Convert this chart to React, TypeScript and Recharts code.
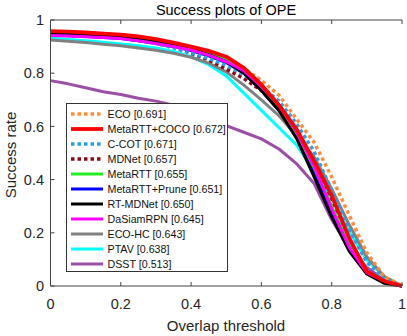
import React from 'react';
import { LineChart, Line, XAxis, YAxis, Legend } from 'recharts';

const thresholds = [0, 0.05, 0.1, 0.15, 0.2, 0.25, 0.3, 0.35, 0.4, 0.45, 0.5, 0.55, 0.6, 0.65, 0.7, 0.75, 0.8, 0.85, 0.9, 0.95, 1];

const eco = [0.955, 0.953, 0.95, 0.946, 0.94, 0.932, 0.922, 0.91, 0.893, 0.872, 0.848, 0.818, 0.773, 0.717, 0.628, 0.54, 0.41, 0.265, 0.125, 0.035, 0.0];
const metaCoco = [0.958, 0.956, 0.953, 0.949, 0.945, 0.938, 0.928, 0.915, 0.9, 0.884, 0.862, 0.82, 0.757, 0.68, 0.59, 0.47, 0.34, 0.18, 0.055, 0.018, 0.0];
const ccot = [0.95, 0.948, 0.945, 0.94, 0.935, 0.925, 0.912, 0.895, 0.876, 0.855, 0.83, 0.795, 0.75, 0.695, 0.61, 0.505, 0.36, 0.21, 0.09, 0.025, 0.0];
const mdnet = [0.95, 0.948, 0.945, 0.94, 0.935, 0.926, 0.915, 0.898, 0.875, 0.85, 0.815, 0.78, 0.735, 0.665, 0.575, 0.46, 0.32, 0.17, 0.055, 0.015, 0.0];
const metaRTT = [0.955, 0.953, 0.95, 0.946, 0.94, 0.932, 0.922, 0.91, 0.895, 0.877, 0.855, 0.81, 0.748, 0.67, 0.575, 0.445, 0.3, 0.155, 0.05, 0.015, 0.0];
const metaPrune = [0.944, 0.941, 0.938, 0.934, 0.93, 0.922, 0.912, 0.9, 0.885, 0.865, 0.84, 0.8, 0.735, 0.66, 0.565, 0.43, 0.28, 0.145, 0.05, 0.015, 0.0];
const rtmdnet = [0.952, 0.949, 0.945, 0.941, 0.936, 0.928, 0.918, 0.906, 0.89, 0.87, 0.843, 0.8, 0.735, 0.66, 0.555, 0.41, 0.26, 0.13, 0.045, 0.01, 0.0];
const dasiam = [0.942, 0.94, 0.937, 0.934, 0.93, 0.922, 0.912, 0.9, 0.887, 0.868, 0.843, 0.81, 0.75, 0.68, 0.58, 0.45, 0.29, 0.145, 0.05, 0.018, 0.0];
const ecohc = [0.925, 0.92, 0.915, 0.909, 0.903, 0.895, 0.886, 0.875, 0.86, 0.838, 0.805, 0.755, 0.7, 0.64, 0.565, 0.485, 0.365, 0.23, 0.11, 0.035, 0.0];
const ptav = [0.932, 0.927, 0.922, 0.916, 0.91, 0.903, 0.895, 0.882, 0.862, 0.832, 0.79, 0.725, 0.66, 0.595, 0.53, 0.435, 0.33, 0.205, 0.098, 0.035, 0.0];
const dsst = [0.772, 0.76, 0.745, 0.73, 0.72, 0.706, 0.695, 0.68, 0.66, 0.633, 0.603, 0.578, 0.553, 0.515, 0.46, 0.385, 0.25, 0.14, 0.07, 0.022, 0.0];

const xTicks = [0, 0.2, 0.4, 0.6, 0.8, 1];
const yTicks = [0, 0.2, 0.4, 0.6, 0.8, 1];

type S = { key: string; name: string; color: string; dash?: string; width: number; values: number[] };

// legend order
const series: S[] = [
  { key: 'eco', name: 'ECO [0.691]', color: '#ff8c3c', dash: '3.5 3', width: 3.5, values: eco },
  { key: 'metaCoco', name: 'MetaRTT+COCO [0.672]', color: '#ff0000', width: 3.8, values: metaCoco },
  { key: 'ccot', name: 'C-COT [0.671]', color: '#2a9de4', dash: '3.5 3', width: 3.5, values: ccot },
  { key: 'mdnet', name: 'MDNet [0.657]', color: '#8b0a1a', dash: '3.5 3', width: 3.5, values: mdnet },
  { key: 'metaRTT', name: 'MetaRTT [0.655]', color: '#22ee22', width: 3, values: metaRTT },
  { key: 'metaPrune', name: 'MetaRTT+Prune [0.651]', color: '#0000ff', width: 3, values: metaPrune },
  { key: 'rtmdnet', name: 'RT-MDNet [0.650]', color: '#000000', width: 3, values: rtmdnet },
  { key: 'dasiam', name: 'DaSiamRPN [0.645]', color: '#ff00ff', width: 3, values: dasiam },
  { key: 'ecohc', name: 'ECO-HC [0.643]', color: '#808080', width: 3, values: ecohc },
  { key: 'ptav', name: 'PTAV [0.638]', color: '#00ffff', width: 3, values: ptav },
  { key: 'dsst', name: 'DSST [0.513]', color: '#9b4ea6', width: 3, values: dsst },
];

// drawing order (bottom to top)
const drawOrder = ['dsst', 'ptav', 'ecohc', 'metaPrune', 'mdnet', 'ccot', 'eco', 'metaRTT', 'rtmdnet', 'dasiam', 'metaCoco'];

const data = thresholds.map((t, i) => {
  const row: Record<string, number> = { t };
  series.forEach((s) => {
    row[s.key] = s.values[i];
  });
  return row;
});

const AX = '#444';
const FONT = '"Liberation Sans", Arial, sans-serif';

const fmt = (v: number) => String(Math.round(v * 10) / 10);

const BottomTick = (p: any) => (
  <g>
    <line x1={p.x} y1={286} x2={p.x} y2={282} stroke={AX} strokeWidth={1} />
    <text x={p.x} y={309} textAnchor="middle" fontSize={14.5} fontFamily={FONT} fill="#262626">
      {fmt(p.payload.value)}
    </text>
  </g>
);
const TopTick = (p: any) => <line x1={p.x} y1={20} x2={p.x} y2={24} stroke={AX} strokeWidth={1} />;
const LeftTick = (p: any) => (
  <g>
    <line x1={p.x} y1={p.y} x2={p.x + 4} y2={p.y} stroke={AX} strokeWidth={1} />
    <text x={p.x - 6.5} y={p.y} dy="0.36em" textAnchor="end" fontSize={14.5} fontFamily={FONT} fill="#262626">
      {fmt(p.payload.value)}
    </text>
  </g>
);
const RightTick = (p: any) => <line x1={p.x} y1={p.y} x2={p.x - 4} y2={p.y} stroke={AX} strokeWidth={1} />;

const LegendBox = () => (
  <svg width={163} height={170} style={{ display: 'block' }}>
    <rect x={0.5} y={0.5} width={161} height={168} fill="#fff" stroke="#333" strokeWidth={1} />
    {series.map((s, i) => {
      const cy = 11 + i * 15;
      return (
        <g key={s.key}>
          <line x1={5} x2={37} y1={cy} y2={cy} stroke={s.color} strokeWidth={s.width} strokeDasharray={s.dash} />
          <text x={41.5} y={cy} dy="0.36em" fontSize={10.7} fontFamily={FONT} fill="#111">
            {s.name}
          </text>
        </g>
      );
    })}
  </svg>
);

export default function App() {
  return (
    <div style={{ position: 'absolute', left: 0, top: 0, width: 407, height: 336, background: '#fff' }}>
      <LineChart width={407} height={336} data={data} margin={{ top: 10, right: 5, bottom: 20, left: 0 }}>
        <XAxis
          xAxisId="b"
          dataKey="t"
          type="number"
          domain={[0, 1]}
          ticks={xTicks}
          orientation="bottom"
          height={30}
          tickSize={0}
          tickMargin={0}
          tickLine={false}
          axisLine={{ stroke: AX }}
          tick={<BottomTick />}
          interval={0}
        />
        <XAxis
          xAxisId="top"
          dataKey="t"
          type="number"
          domain={[0, 1]}
          ticks={xTicks}
          orientation="top"
          height={10}
          tickSize={0}
          tickMargin={0}
          tickLine={false}
          axisLine={{ stroke: AX }}
          tick={<TopTick />}
          interval={0}
        />
        <YAxis
          yAxisId="l"
          type="number"
          domain={[0, 1]}
          ticks={yTicks}
          orientation="left"
          width={50.5}
          tickSize={0}
          tickMargin={0}
          tickLine={false}
          axisLine={{ stroke: AX }}
          tick={<LeftTick />}
          interval={0}
        />
        <YAxis
          yAxisId="r"
          type="number"
          domain={[0, 1]}
          ticks={yTicks}
          orientation="right"
          width={0}
          tickSize={0}
          tickMargin={0}
          tickLine={false}
          axisLine={{ stroke: AX }}
          tick={<RightTick />}
          interval={0}
        />
        {drawOrder.map((k) => {
          const s = series.find((x) => x.key === k)!;
          return (
            <Line
              key={s.key}
              xAxisId="b"
              yAxisId="l"
              type="linear"
              dataKey={s.key}
              name={s.name}
              stroke={s.color}
              strokeWidth={s.width}
              strokeDasharray={s.dash}
              dot={false}
              activeDot={false}
              isAnimationActive={false}
              strokeLinejoin="round"
            />
          );
        })}
        <Legend
          layout="vertical"
          align="center"
          verticalAlign="middle"
          wrapperStyle={{ left: 66, top: 103, width: 163, height: 170 }}
          content={() => <LegendBox />}
        />
      </LineChart>
      <svg width={407} height={336} style={{ position: 'absolute', left: 0, top: 0, pointerEvents: 'none' }}>
        <text x={226} y={15} textAnchor="middle" fontSize={14.5} fontFamily={FONT} fill="#000">
          Success plots of OPE
        </text>
        <text x={226} y={331} textAnchor="middle" fontSize={15} fontFamily={FONT} fill="#262626">
          Overlap threshold
        </text>
        <text x={0} y={0} transform="translate(15.5,155) rotate(-90)" textAnchor="middle" fontSize={15} fontFamily={FONT} fill="#262626">
          Success rate
        </text>
      </svg>
    </div>
  );
}
